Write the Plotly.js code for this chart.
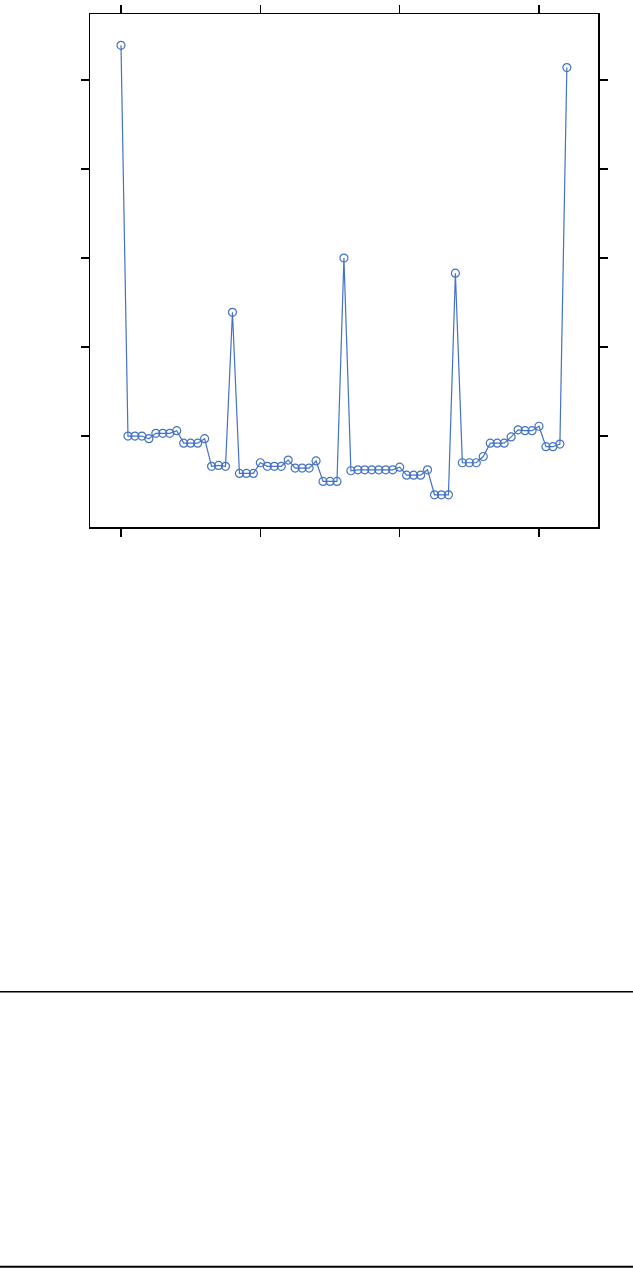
<!DOCTYPE html>
<html>
<head>
<meta charset="utf-8">
<script src="https://cdn.plot.ly/plotly-3.0.1.min.js"></script>
<style>
html,body{margin:0;padding:0;background:#fff;}
#chart{width:633px;height:1269px;}
</style>
</head>
<body>
<div id="chart"></div>
<script>
const xIndex = [0,1,2,3,4,5,6,7,8,9,10,11,12,13,14,15,16,17,18,19,20,21,22,23,24,25,26,27,28,29,30,31,32,33,34,35,36,37,38,39,40,41,42,43,44,45,46,47,48,49,50,51,52,53,54,55,56,57,58,59,60,61,62,63,64];
const seriesValues = [43.9,0,0,0,-0.3,0.3,0.3,0.3,0.6,-0.8,-0.8,-0.8,-0.3,-3.4,-3.3,-3.4,13.9,-4.2,-4.2,-4.2,-3.0,-3.4,-3.4,-3.4,-2.7,-3.6,-3.6,-3.6,-2.8,-5.1,-5.1,-5.1,20.0,-3.9,-3.8,-3.8,-3.8,-3.8,-3.8,-3.8,-3.5,-4.4,-4.4,-4.4,-3.8,-6.6,-6.6,-6.6,18.3,-3.0,-3.0,-3.0,-2.3,-0.8,-0.8,-0.8,-0.1,0.7,0.6,0.6,1.1,-1.2,-1.2,-0.9,41.4];
const xTicks = [0,20,40,60];
const yTicks = [0,10,20,30,40];

const trace = {
  x: xIndex,
  y: seriesValues,
  type: 'scatter',
  mode: 'lines+markers',
  line: {color: '#4472C4', width: 1.2},
  marker: {symbol: 'circle-open', size: 8, color: '#4472C4', line: {width: 1.2, color: '#4472C4'}},
  hoverinfo: 'skip'
};

const axisCommon = {
  showline: true, linecolor: '#000', linewidth: 1.5,
  mirror: 'ticks', ticks: 'outside', ticklen: 8, tickwidth: 1.5, tickcolor: '#000',
  showticklabels: false, showgrid: false, zeroline: false, tickmode: 'array'
};

const layout = {
  width: 633, height: 1269,
  margin: {l: 90, r: 35, t: 14, b: 742},
  paper_bgcolor: '#fff', plot_bgcolor: '#fff',
  showlegend: false,
  xaxis: Object.assign({}, axisCommon, {range: [-4.45, 68.47], tickvals: xTicks}),
  yaxis: Object.assign({}, axisCommon, {range: [-10.22, 47.42], tickvals: yTicks}),
  shapes: [
    {type: 'line', xref: 'paper', yref: 'paper', x0: -0.18, x1: 1.07, y0: -0.906, y1: -0.906, line: {color: '#000', width: 1.5}},
    {type: 'line', xref: 'paper', yref: 'paper', x0: -0.18, x1: 1.07, y0: -1.442, y1: -1.442, line: {color: '#000', width: 2}}
  ]
};

Plotly.newPlot('chart', [trace], layout, {displayModeBar: false, staticPlot: true});
</script>
</body>
</html>
